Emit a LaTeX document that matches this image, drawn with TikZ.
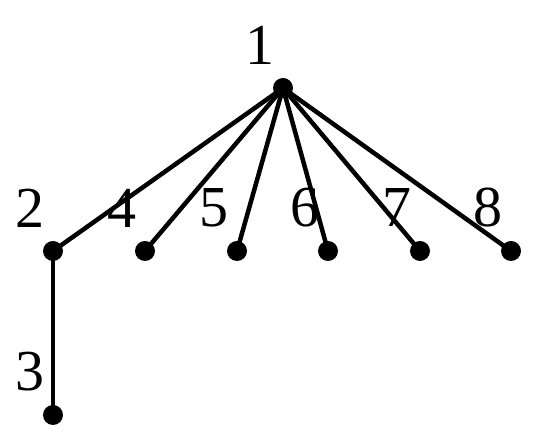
\documentclass[tikz,border=0pt]{standalone}
\usepackage{fontspec}
\setmainfont{Liberation Serif}
\tikzset{
   vertex/.style={circle, fill=black, minimum size=20pt, inner sep=0pt},
   num/.style={label={[shift={(-23pt,43pt)},anchor=center,font=\fontsize{58}{62}\selectfont]center:#1}},
   edge/.style={line width=4.5pt}
}
\begin{document}
\begin{tikzpicture}[x=1pt,y=1pt]
  \useasboundingbox (0,0) rectangle (536,441);

  \node[vertex,num=1] at (283,353) (n1) {};
  \node[vertex,num=2] at (53,190)  (n2) {};
  \node[vertex,num=3] at (53,26)   (n3) {};
  \node[vertex,num=4] at (145,190) (n4) {};
  \node[vertex,num=5] at (237,190) (n5) {};
  \node[vertex,num=6] at (328,190) (n6) {};
  \node[vertex,num=7] at (420,190) (n7) {};
  \node[vertex,num=8] at (511,190) (n8) {};

  \foreach \k in {2,4,5,6,7,8}
    \draw[edge] (n1.center) -- (n\k.center);
  \draw[edge] (n2.center) -- (n3.center);

\end{tikzpicture}
\end{document}
